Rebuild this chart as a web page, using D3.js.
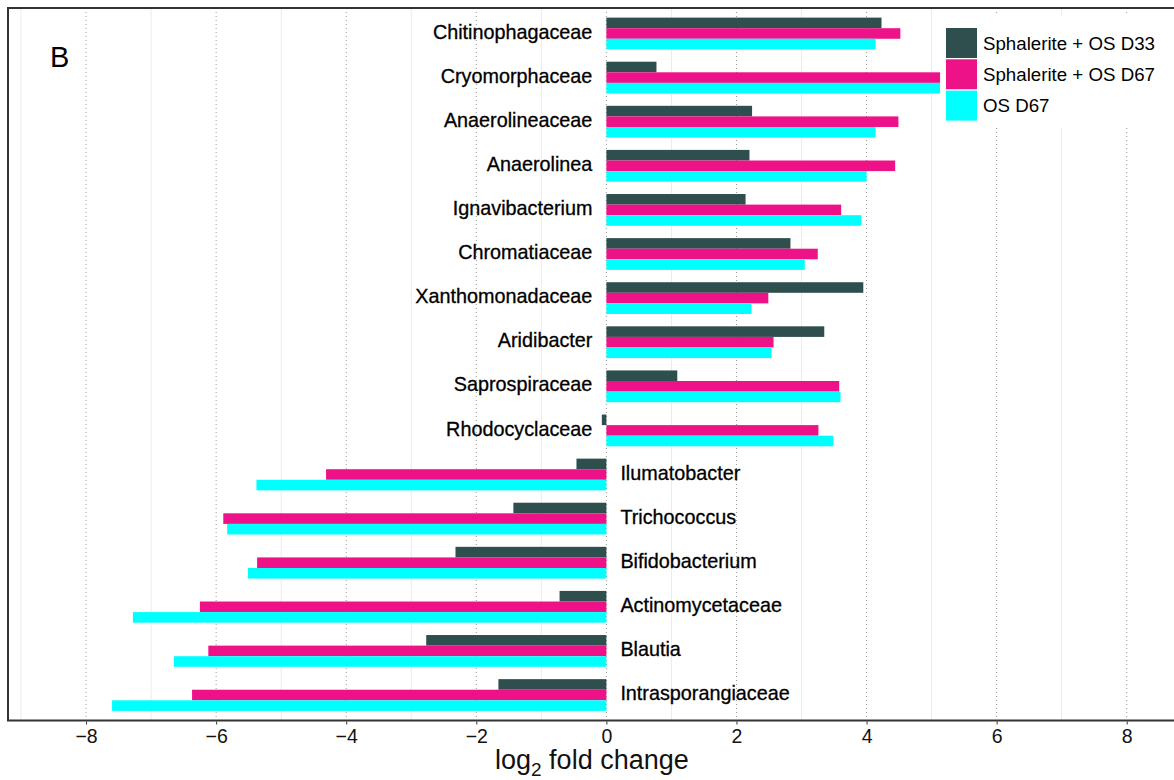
<!DOCTYPE html>
<html>
<head>
<meta charset="utf-8">
<script src="https://cdn.jsdelivr.net/npm/d3@7"></script>
<style>
  body { margin: 0; background: #fff; }
  svg { display: block; font-family: "Liberation Sans", Arial, sans-serif; }
</style>
</head>
<body>
<div id="chart"></div>
<script>
// taxa, top to bottom
var taxa = ["Chitinophagaceae", "Cryomorphaceae", "Anaerolineaceae", "Anaerolinea",
    "Ignavibacterium", "Chromatiaceae", "Xanthomonadaceae", "Aridibacter",
    "Saprospiraceae", "Rhodocyclaceae", "Ilumatobacter", "Trichococcus",
    "Bifidobacterium", "Actinomycetaceae", "Blautia", "Intrasporangiaceae"];

var seriesNames = ["Sphalerite + OS D33", "Sphalerite + OS D67", "OS D67"];
var seriesColors = ["#2f4f4f", "#ee1289", "#00ffff"];

// log2 fold change per taxon, same order as taxa
var sphD33 = [4.23, 0.77, 2.24, 2.20, 2.14, 2.83, 3.95, 3.35, 1.09, -0.07,
    -0.46, -1.43, -2.32, -0.72, -2.77, -1.66];
var sphD67 = [4.52, 5.13, 4.49, 4.44, 3.61, 3.25, 2.49, 2.57, 3.58, 3.26,
    -4.31, -5.89, -5.37, -6.25, -6.12, -6.37];
var osD67 = [4.14, 5.13, 4.14, 4.00, 3.92, 3.05, 2.23, 2.54, 3.60, 3.49,
    -5.38, -5.83, -5.51, -7.28, -6.65, -7.60];

var xTicks = [-8, -6, -4, -2, 0, 2, 4, 6, 8];
var xMinor = [-9, -7, -5, -3, -1, 1, 3, 5, 7];

var width = 1174, height = 780;
var panel = { left: 8, top: 8, bottom: 720.5, right: 1182 };

var svg = d3.select("#chart").append("svg")
    .attr("width", width)
    .attr("height", height);

var x = d3.scaleLinear()
    .domain([-9.2, 8.85])
    .range([panel.left, panel.right]);

var y = d3.scaleBand()
    .domain(taxa)
    .range([panel.top, panel.bottom])
    .paddingInner(0.28)
    .paddingOuter(0.218);

var ySub = d3.scaleBand()
    .domain(seriesNames)
    .range([0, y.bandwidth()]);

var color = d3.scaleOrdinal().domain(seriesNames).range(seriesColors);

var rows = taxa.map(function (t, i) {
    return { taxon: t, values: [sphD33[i], sphD67[i], osD67[i]] };
});

svg.append("clipPath").attr("id", "panelClip")
    .append("rect")
    .attr("x", panel.left).attr("y", panel.top)
    .attr("width", panel.right - panel.left)
    .attr("height", panel.bottom - panel.top);

var plot = svg.append("g").attr("clip-path", "url(#panelClip)");

// grid
plot.selectAll(".minor").data(xMinor).enter().append("line")
    .attr("x1", function (d) { return x(d); })
    .attr("x2", function (d) { return x(d); })
    .attr("y1", panel.top).attr("y2", panel.bottom)
    .attr("stroke", "#ebebeb").attr("stroke-width", 1);

plot.selectAll(".major").data(xTicks).enter().append("line")
    .attr("x1", function (d) { return x(d); })
    .attr("x2", function (d) { return x(d); })
    .attr("y1", panel.top).attr("y2", panel.bottom)
    .attr("stroke", "#999").attr("stroke-width", 1)
    .attr("stroke-dasharray", "1,3");

// bars
var groups = plot.selectAll(".grp").data(rows).enter().append("g")
    .attr("transform", function (d) { return "translate(0," + y(d.taxon) + ")"; });

groups.selectAll("rect")
    .data(function (d) {
        return d.values.map(function (v, j) { return { name: seriesNames[j], value: v }; });
    })
    .enter().append("rect")
    .attr("x", function (d) { return x(Math.min(0, d.value)); })
    .attr("width", function (d) { return Math.abs(x(d.value) - x(0)); })
    .attr("y", function (d) { return ySub(d.name); })
    .attr("height", ySub.bandwidth())
    .attr("fill", function (d) { return color(d.name); });

// taxon labels on the opposite side of zero
groups.append("text")
    .attr("x", function (d) { return d.values[2] >= 0 ? x(0) - 14 : x(0) + 14; })
    .attr("y", y.bandwidth() / 2)
    .attr("dy", "0.26em")
    .attr("text-anchor", function (d) { return d.values[2] >= 0 ? "end" : "start"; })
    .style("font-size", "19.8px")
    .style("fill", "#000")
    .style("stroke", "#000")
    .style("stroke-width", 0.3)
    .text(function (d) { return d.taxon; });

// legend
var legend = svg.append("g");
legend.append("rect")
    .attr("x", 941).attr("y", 16)
    .attr("width", 260).attr("height", 112)
    .attr("fill", "#fff");

var keys = legend.selectAll(".key").data(seriesNames).enter().append("g")
    .attr("transform", function (d, i) { return "translate(946," + (28 + i * 31.3) + ")"; });

keys.append("rect")
    .attr("width", 31).attr("height", 30)
    .attr("fill", function (d) { return color(d); });

keys.append("text")
    .attr("x", 37).attr("y", 15)
    .attr("dy", "0.35em")
    .style("font-size", "18.7px")
    .style("fill", "#000")
    .text(function (d) { return d; });

// panel border
svg.append("rect")
    .attr("x", panel.left).attr("y", panel.top)
    .attr("width", panel.right - panel.left)
    .attr("height", panel.bottom - panel.top)
    .attr("fill", "none")
    .attr("stroke", "#333").attr("stroke-width", 2);

// x axis
var xAxis = svg.append("g")
    .attr("transform", "translate(0," + (panel.bottom + 1) + ")")
    .call(d3.axisBottom(x).tickValues(xTicks).tickSize(3).tickPadding(5)
        .tickFormat(function (d) { return d < 0 ? "\u2212" + Math.abs(d) : d; }));

xAxis.select(".domain").remove();
xAxis.selectAll(".tick line").attr("stroke", "#333");
xAxis.selectAll(".tick text")
    .style("font-size", "19.5px")
    .style("fill", "#111")
    .style("font-family", "'Liberation Sans', Arial, sans-serif");

// axis title
var title = svg.append("text")
    .attr("x", 495).attr("y", 769)
    .style("font-size", "27px")
    .style("fill", "#111");
title.append("tspan").text("log");
title.append("tspan").attr("dy", 7).style("font-size", "19px").text("2");
title.append("tspan").attr("dy", -7).text(" fold change");

// panel tag
svg.append("text")
    .attr("x", 50).attr("y", 67)
    .style("font-size", "29px")
    .style("fill", "#000")
    .text("B");
</script>
</body>
</html>
